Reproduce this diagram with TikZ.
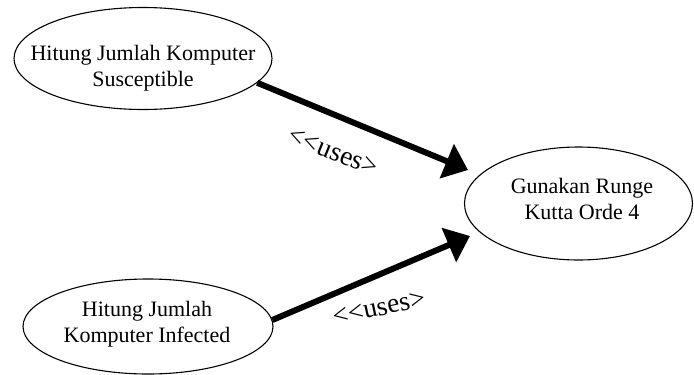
\documentclass[tikz,border=0pt]{standalone}
\usepackage{fontspec}
\setmainfont{Liberation Serif}
\usetikzlibrary{shapes.geometric,arrows.meta}

\tikzset{
  usecase/.style={draw=black, line width=1.1pt, ellipse, inner sep=0pt},
  casetext/.style={align=center, inner sep=0pt, font=\fontsize{22}{26}\selectfont},
  usesarrow/.style={line width=6pt, -{Triangle[length=23pt,width=36pt]}},
  useslabel/.style={inner sep=0pt, font=\fontsize{27.5}{30}\selectfont}
}
% stereotype text, kerned so the angle brackets stay separate characters
\newcommand{\usesstereo}{<\kern0pt<\kern0pt uses\kern0pt>}

\begin{document}
\begin{tikzpicture}[x=1pt, y=-1pt]
  \useasboundingbox (0,0) rectangle (694,375);

  % use cases
  \node[usecase, minimum width=258pt, minimum height=102pt] (susc) at (143,58.5) {};
  \node[casetext] (susctext) at (143,68) {Hitung Jumlah Komputer\\Susceptible};

  \node[usecase, minimum width=250pt, minimum height=95pt] (inf) at (148,326.5) {};
  \node[casetext] (inftext) at (147,324) {Hitung Jumlah\\Komputer Infected};

  \node[usecase, minimum width=228pt, minimum height=113pt] (rk) at (578.5,203.5) {};
  \node[casetext] (rktext) at (582,199) {Gunakan Runge\\Kutta Orde 4};

  % arrow tips stop short of the Runge-Kutta use case
  \coordinate (tipsusc) at (468,170);
  \coordinate (tipinf) at (470,236);

  \draw[usesarrow] (susc.-12) -- (tipsusc);
  \draw[usesarrow] (inf.3) -- (tipinf);

  % stereotype labels
  \node[useslabel, rotate=-22] (lblsusc) at (333,152) {\usesstereo};
  \node[useslabel, rotate=12] (lblinf) at (379,308) {\usesstereo};
\end{tikzpicture}
\end{document}
